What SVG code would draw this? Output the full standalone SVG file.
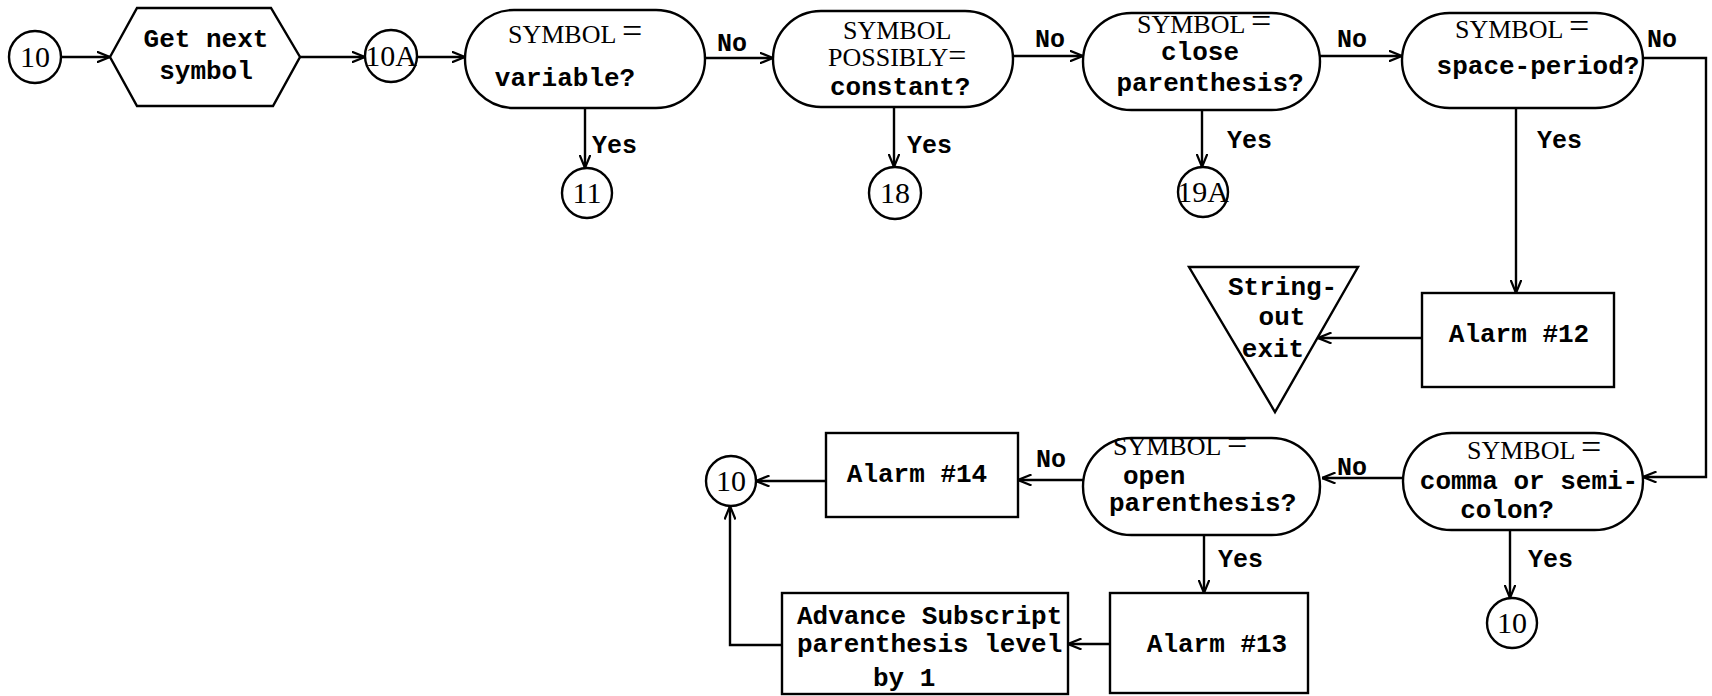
<svg xmlns="http://www.w3.org/2000/svg" width="1712" height="696" viewBox="0 0 1712 696">
<defs>
<marker id="ah" viewBox="0 0 14 12" refX="13.5" refY="6" markerWidth="14" markerHeight="12" markerUnits="userSpaceOnUse" orient="auto">
<path d="M0,0.5 L13.5,6 L0,11.5" fill="none" stroke="#000" stroke-width="2.2"/>
</marker>
<style>
.s{fill:#fff;stroke:#000;stroke-width:2.4}
.c{fill:none;stroke:#000;stroke-width:2.4}
.m{font-family:"Liberation Mono","DejaVu Sans Mono",monospace;font-size:26px;font-weight:bold;fill:#000}
.sy{font-family:"Liberation Serif","DejaVu Serif",serif;font-size:26px;fill:#000}
.eq{font-size:36px}
.n{font-family:"Liberation Serif","DejaVu Serif",serif;font-size:30px;fill:#000;text-anchor:middle}
.mid{text-anchor:middle}
.l{font-family:"Liberation Mono","DejaVu Sans Mono",monospace;font-size:25px;font-weight:bold;fill:#000}
</style>
</defs>
<rect width="1712" height="696" fill="#fff"/>

<g id="connectors">
<line class="c" x1="61" y1="57" x2="110" y2="57" marker-end="url(#ah)"/>
<line class="c" x1="300" y1="57" x2="365" y2="57" marker-end="url(#ah)"/>
<line class="c" x1="417" y1="57" x2="465" y2="57" marker-end="url(#ah)"/>
<line class="c" x1="705" y1="58" x2="773" y2="58" marker-end="url(#ah)"/>
<line class="c" x1="1013" y1="56" x2="1083" y2="56" marker-end="url(#ah)"/>
<line class="c" x1="1320" y1="56" x2="1402" y2="56" marker-end="url(#ah)"/>
<polyline class="c" points="1643,58 1706,58 1706,477 1643,477" marker-end="url(#ah)"/>
<line class="c" x1="585" y1="108" x2="585" y2="168" marker-end="url(#ah)"/>
<line class="c" x1="894" y1="107" x2="894" y2="167" marker-end="url(#ah)"/>
<line class="c" x1="1202" y1="110" x2="1202" y2="167" marker-end="url(#ah)"/>
<line class="c" x1="1516" y1="108" x2="1516" y2="293" marker-end="url(#ah)"/>
<line class="c" x1="1422" y1="338" x2="1318" y2="338" marker-end="url(#ah)"/>
<line class="c" x1="1403" y1="478" x2="1322" y2="478" marker-end="url(#ah)"/>
<line class="c" x1="1510" y1="530" x2="1510" y2="598" marker-end="url(#ah)"/>
<line class="c" x1="1083" y1="480" x2="1018" y2="480" marker-end="url(#ah)"/>
<line class="c" x1="826" y1="481" x2="756" y2="481" marker-end="url(#ah)"/>
<line class="c" x1="1204" y1="535" x2="1204" y2="593" marker-end="url(#ah)"/>
<line class="c" x1="1110" y1="644" x2="1068" y2="644" marker-end="url(#ah)"/>
<polyline class="c" points="782,645 730,645 730,506" marker-end="url(#ah)"/>
<text class="l" x="717" y="51">No</text>
<text class="l" x="1035" y="47">No</text>
<text class="l" x="1337" y="47">No</text>
<text class="l" x="1647" y="47">No</text>
<text class="l" x="592" y="153">Yes</text>
<text class="l" x="907" y="153">Yes</text>
<text class="l" x="1227" y="148">Yes</text>
<text class="l" x="1537" y="148">Yes</text>
<text class="l" x="1337" y="475">No</text>
<text class="l" x="1528" y="567">Yes</text>
<text class="l" x="1036" y="467">No</text>
<text class="l" x="1218" y="567">Yes</text>
</g>

<g id="c10-start">
<circle class="s" cx="35" cy="57" r="26"/>
<text class="n" x="35" y="67">10</text>
</g>

<g id="get-next-symbol">
<polygon class="s" points="110,57 137,8 271,8 300,57 273,106 137,106"/>
<text class="m mid" x="206" y="47">Get next</text>
<text class="m mid" x="206" y="79">symbol</text>
</g>

<g id="c10A">
<circle class="s" cx="391" cy="56" r="26"/>
<text class="n" x="391" y="66" font-size="27">10A</text>
</g>

<g id="d-variable">
<rect class="s" x="465" y="10" width="240" height="98" rx="49"/>
<text class="sy" x="508" y="43">SYMBOL <tspan class="eq">=</tspan></text>
<text class="m mid" x="565" y="86">variable?</text>
</g>

<g id="c11">
<circle class="s" cx="587" cy="193" r="25"/>
<text class="n" x="587" y="203">11</text>
</g>

<g id="d-constant">
<rect class="s" x="773" y="11" width="240" height="96" rx="48"/>
<text class="sy" x="843" y="39">SYMBOL</text>
<text class="sy" x="828" y="66">POSSIBLY<tspan font-size="32px">=</tspan></text>
<text class="m" x="830" y="95" font-size="25">constant?</text>
</g>

<g id="c18">
<circle class="s" cx="895" cy="193" r="26"/>
<text class="n" x="895" y="203">18</text>
</g>

<g id="d-close-paren">
<rect class="s" x="1083" y="13" width="237" height="97" rx="48.5"/>
<text class="sy" x="1137" y="33">SYMBOL <tspan class="eq">=</tspan></text>
<text class="m mid" x="1200" y="60">close</text>
<text class="m mid" x="1210" y="91">parenthesis?</text>
</g>

<g id="c19A">
<circle class="s" cx="1203" cy="192" r="25"/>
<text class="n" x="1203" y="202" font-size="27">19A</text>
</g>

<g id="d-space-period">
<rect class="s" x="1402" y="13" width="241" height="95" rx="47.5"/>
<text class="sy" x="1455" y="38">SYMBOL <tspan class="eq">=</tspan></text>
<text class="m mid" x="1538" y="74">space-period?</text>
</g>

<g id="alarm12">
<rect class="s" x="1422" y="293" width="192" height="94"/>
<text class="m mid" x="1519" y="342">Alarm #12</text>
</g>

<g id="string-out-exit">
<polygon class="s" points="1189,267 1358,267 1275,412"/>
<text class="m" x="1228" y="295">String-</text>
<text class="m mid" x="1282" y="325">out</text>
<text class="m mid" x="1273" y="357">exit</text>
</g>

<g id="d-comma">
<rect class="s" x="1403" y="433" width="240" height="97" rx="48.5"/>
<text class="sy" x="1467" y="459">SYMBOL <tspan class="eq">=</tspan></text>
<text class="m mid" x="1529" y="489">comma or semi-</text>
<text class="m mid" x="1507" y="518">colon?</text>
</g>

<g id="c10-right">
<circle class="s" cx="1512" cy="623" r="25"/>
<text class="n" x="1512" y="633">10</text>
</g>

<g id="d-open-paren">
<rect class="s" x="1083" y="438" width="237" height="97" rx="48.5"/>
<text class="sy" x="1113" y="455">SYMBOL <tspan class="eq">=</tspan></text>
<text class="m" x="1123" y="484">open</text>
<text class="m" x="1109" y="511">parenthesis?</text>
</g>

<g id="alarm14">
<rect class="s" x="826" y="433" width="192" height="84"/>
<text class="m mid" x="917" y="482">Alarm #14</text>
</g>

<g id="c10-left">
<circle class="s" cx="731" cy="481" r="25"/>
<text class="n" x="731" y="491">10</text>
</g>

<g id="alarm13">
<rect class="s" x="1110" y="593" width="198" height="100"/>
<text class="m mid" x="1217" y="652">Alarm #13</text>
</g>

<g id="advance">
<rect class="s" x="782" y="593" width="286" height="101"/>
<text class="m" x="797" y="624">Advance Subscript</text>
<text class="m" x="797" y="652">parenthesis level</text>
<text class="m" x="873" y="686">by 1</text>
</g>
</svg>
